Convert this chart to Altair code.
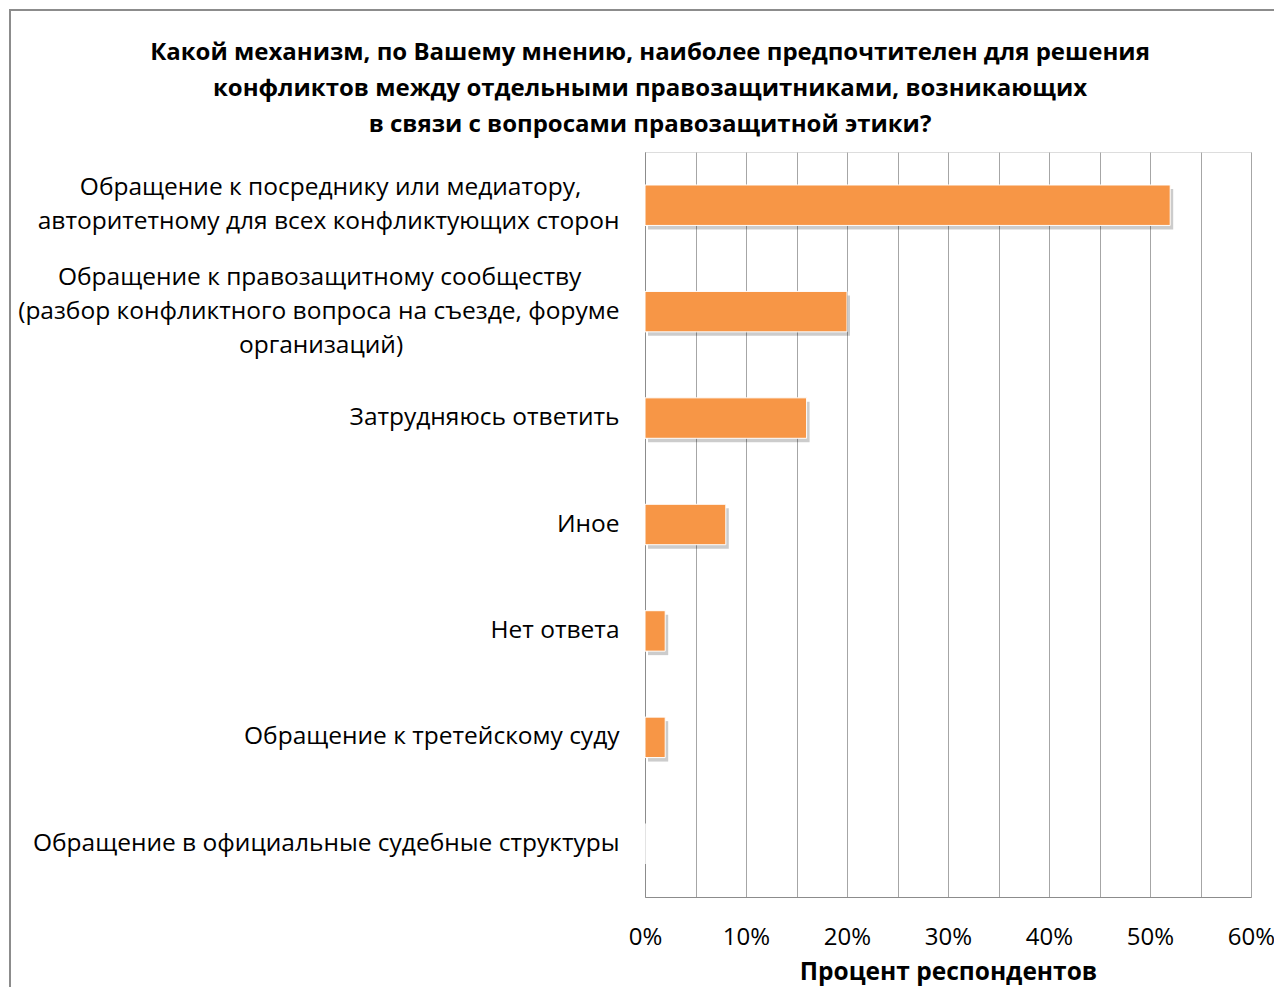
import altair as alt
import pandas as pd

NB = "\u00a0"
ZW = "\u200b"

categories = [
    "Обращение к посреднику или медиатору," + NB * 6 + ZW + "|авторитетному для всех конфликтующих сторон",
    "Обращение к правозащитному сообществу" + NB * 6 + ZW + "|(разбор конфликтного вопроса на съезде, форуме|организаций)" + NB * 34 + ZW,
    "Затрудняюсь ответить",
    "Иное",
    "Нет ответа",
    "Обращение к третейскому суду",
    "Обращение в официальные судебные структуры",
]
values = [0.52, 0.20, 0.16, 0.08, 0.02, 0.02, 0.0]
x_ticks = [0, 0.05, 0.10, 0.15, 0.20, 0.25, 0.30, 0.35, 0.40, 0.45, 0.50, 0.55, 0.60]

title_lines = [
    "Какой механизм, по Вашему мнению, наиболее предпочтителен для решения",
    "конфликтов между отдельными правозащитниками,  возникающих",
    "в связи с вопросами  правозащитной этики?",
]

df = pd.DataFrame({"cat": categories, "val": values})

FONT = "Open Sans"

y_enc = alt.Y(
    "cat:N",
    sort=categories,
    title=None,
    scale=alt.Scale(paddingInner=0.62, paddingOuter=0.31),
    axis=alt.Axis(
        labelExpr="split(datum.label, '|')",
        labelFont=FONT,
        labelFontSize=24.5,
        labelColor="#000000",
        labelLineHeight=34,
        labelPadding=26,
        labelLimit=700,
        labelOffset={
            "condition": [
                {"test": "length(split(datum.label, '|')) == 2", "value": -17},
                {"test": "length(split(datum.label, '|')) == 3", "value": -34},
            ],
            "value": 0,
        },
        ticks=False,
        domain=True,
        domainColor="#8c8c8c",
        grid=False,
    ),
)

x_enc = alt.X(
    "val:Q",
    title="Процент респондентов",
    scale=alt.Scale(domain=[0, 0.6], nice=False),
    axis=alt.Axis(
        values=x_ticks,
        format=".0%",
        labelExpr="round(datum.value*100) % 10 == 0 ? datum.label : ''",
        labelFont=FONT,
        labelFontSize=24,
        labelColor="#000000",
        labelPadding=28,
        labelFlush=False,
        labelOverlap=False,
        ticks=False,
        domainColor="#8c8c8c",
        grid=True,
        gridColor="#a6a6a6",
        gridWidth=1,
        titleFont=FONT,
        titleFontSize=24.5,
        titleFontWeight="bold",
        titleColor="#000000",
        titlePadding=11,
    ),
)

shadow = alt.Chart(df).mark_bar(
    color="#000000", opacity=0.2, xOffset=3, yOffset=4
).encode(x=x_enc, y=y_enc)

bars = alt.Chart(df).mark_bar(
    color="#F79646", stroke="#ffffff", strokeWidth=1
).encode(x=x_enc, y=y_enc)

frame = alt.Chart(pd.DataFrame({"k": [0]})).mark_rect(
    fill=None, stroke="#8c8c8c", strokeWidth=2
).encode(
    x=alt.value(-635), x2=alt.value(700), y=alt.value(-142), y2=alt.value(900)
)

chart = alt.layer(frame, shadow, bars).properties(
    width=606,
    height=745,
    padding={"left": 637, "top": 144, "right": 23, "bottom": 90},
    autosize=alt.AutoSizeParams(type="none"),
    title=alt.TitleParams(
        text=title_lines,
        font=FONT,
        fontSize=24,
        fontWeight="bold",
        color="#000000",
        anchor="middle",
        frame="group",
        dx=-298,
        offset=-128,
        lineHeight=36,
    ),
).configure_view(stroke=None).configure(background="#ffffff")

chart.save("out.html", embed_options={"renderer": "svg", "actions": False})
